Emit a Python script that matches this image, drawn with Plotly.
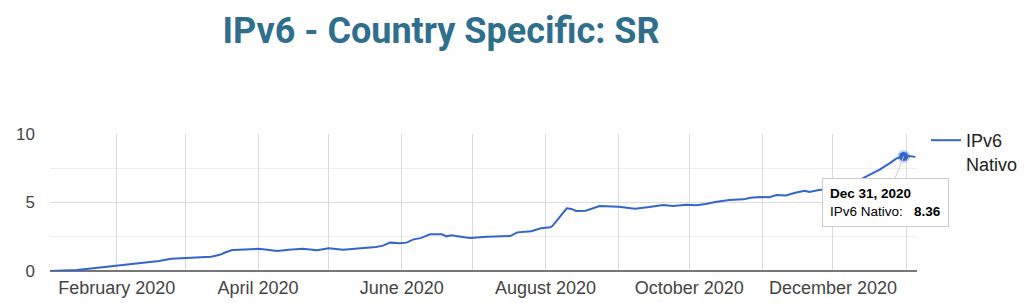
import plotly.graph_objects as go
import pandas as pd

dates = [
    "2020-01-04", "2020-01-15", "2020-01-22", "2020-02-01", "2020-02-13", "2020-02-19",
    "2020-02-24", "2020-03-01", "2020-03-07", "2020-03-12", "2020-03-14", "2020-03-16",
    "2020-03-18", "2020-03-21", "2020-03-24", "2020-04-01", "2020-04-05", "2020-04-09",
    "2020-04-14", "2020-04-20", "2020-04-26", "2020-05-01", "2020-05-07", "2020-05-14",
    "2020-05-21", "2020-05-24", "2020-05-27", "2020-05-31", "2020-06-03", "2020-06-06",
    "2020-06-09", "2020-06-13", "2020-06-18", "2020-06-20", "2020-06-22", "2020-06-26",
    "2020-06-30", "2020-07-07", "2020-07-17", "2020-07-20", "2020-07-26", "2020-07-30",
    "2020-08-03", "2020-08-04", "2020-08-08", "2020-08-10", "2020-08-12", "2020-08-14",
    "2020-08-18", "2020-08-24", "2020-09-01", "2020-09-08", "2020-09-14", "2020-09-20",
    "2020-09-24", "2020-09-30", "2020-10-04", "2020-10-08", "2020-10-12", "2020-10-18",
    "2020-10-24", "2020-10-27", "2020-10-31", "2020-11-04", "2020-11-07", "2020-11-11",
    "2020-11-15", "2020-11-19", "2020-11-21", "2020-11-25", "2020-12-01", "2020-12-08",
    "2020-12-14", "2020-12-21", "2020-12-25", "2020-12-28", "2020-12-31", "2021-01-02",
    "2021-01-05",
]
ipv6_nativo = [
    0.00, 0.07, 0.20, 0.39, 0.61, 0.73,
    0.90, 0.95, 1.00, 1.04, 1.12, 1.20,
    1.35, 1.53, 1.56, 1.62, 1.55, 1.46,
    1.55, 1.63, 1.51, 1.66, 1.55, 1.63,
    1.75, 1.85, 2.07, 2.02, 2.07, 2.31,
    2.40, 2.68, 2.68, 2.53, 2.60, 2.50,
    2.41, 2.50, 2.55, 2.82, 2.90, 3.12,
    3.19, 3.30, 4.20, 4.58, 4.53, 4.38,
    4.40, 4.74, 4.69, 4.55, 4.67, 4.82,
    4.74, 4.84, 4.80, 4.89, 5.04, 5.18,
    5.23, 5.35, 5.40, 5.38, 5.55, 5.52,
    5.71, 5.86, 5.77, 5.91, 6.00, 6.30,
    6.80, 7.42, 7.86, 8.22, 8.36, 8.40,
    8.33,
]
series_name = "IPv6 Nativo"
title_text = "IPv6 - Country Specific: SR"
tick_dates = ["2020-02-01", "2020-03-01", "2020-04-01", "2020-05-01", "2020-06-01",
              "2020-07-01", "2020-08-01", "2020-09-01", "2020-10-01", "2020-11-01",
              "2020-12-01", "2021-01-01"]
tick_labels = ["February 2020", "", "April 2020", "", "June 2020", "", "August 2020", "",
               "October 2020", "", "December 2020", ""]
y_ticks = [0, 5, 10]
highlight_index = 76  # Dec 31, 2020

LINE = "#3366cc"
FONT = "Liberation Sans, Arial, sans-serif"

fig = go.Figure()
fig.add_trace(go.Scatter(
    x=dates, y=ipv6_nativo, mode="lines", name="IPv6<br>Nativo",
    line=dict(color=LINE, width=2), hoverinfo="skip",
))
fig.add_trace(go.Scatter(
    x=[dates[highlight_index]], y=[ipv6_nativo[highlight_index]], mode="markers",
    showlegend=False, hoverinfo="skip",
    marker=dict(size=9, color=LINE, line=dict(color="rgba(51,102,204,0.3)", width=4)),
))

hl_date = pd.Timestamp(dates[highlight_index])
tip = f"<b>{hl_date.strftime('%b')} {hl_date.day}, {hl_date.year}</b><br>{series_name}:   <b>{ipv6_nativo[highlight_index]:.2f}</b>"
fig.add_annotation(
    x=dates[highlight_index], y=ipv6_nativo[highlight_index], xref="x", yref="y",
    text=tip, align="left", showarrow=True, arrowhead=0, arrowwidth=1,
    arrowcolor="#cccccc", ax=-18, ay=46, bgcolor="white", bordercolor="#cccccc",
    borderwidth=1, borderpad=7, font=dict(family=FONT, size=13.5, color="#000"),
)

fig.update_layout(
    width=1024, height=303,
    margin=dict(l=50, r=107, t=134, b=32, autoexpand=False),
    paper_bgcolor="white", plot_bgcolor="white",
    title=dict(text=f"<b>{title_text}</b>", x=441 / 1024, xanchor="center", xref="container",
               y=1 - 30 / 303, yanchor="middle", yref="container",
               font=dict(family="Roboto, " + FONT, size=36, color="#2f6f8d")),
    font=dict(family=FONT, size=18, color="#444"),
    legend=dict(x=926 / 1024, xanchor="left", xref="container",
                y=1 - 122 / 303, yanchor="top", yref="container", valign="top",
                font=dict(family=FONT, size=18, color="#222"), bgcolor="rgba(0,0,0,0)"),
    xaxis=dict(type="date", range=["2020-01-03 16:00", "2021-01-05 16:00"],
               tickvals=tick_dates, ticktext=tick_labels, showgrid=True, automargin=False,
               gridcolor="#dadada", gridwidth=1, ticks="", zeroline=False,
               showline=False, ticklabelstandoff=4, tickfont=dict(size=18, color="#444")),
    yaxis=dict(range=[0, 10], tickvals=y_ticks, showgrid=True, gridcolor="#dadada",
               zeroline=True, zerolinecolor="#777", zerolinewidth=2, ticks="",
               ticklabelstandoff=14, automargin=False,
               minor=dict(dtick=2.5, showgrid=True, gridcolor="#eeeeee", gridwidth=1),
               tickfont=dict(size=17, color="#444")),
    showlegend=True,
)
fig.write_html("out.html")
